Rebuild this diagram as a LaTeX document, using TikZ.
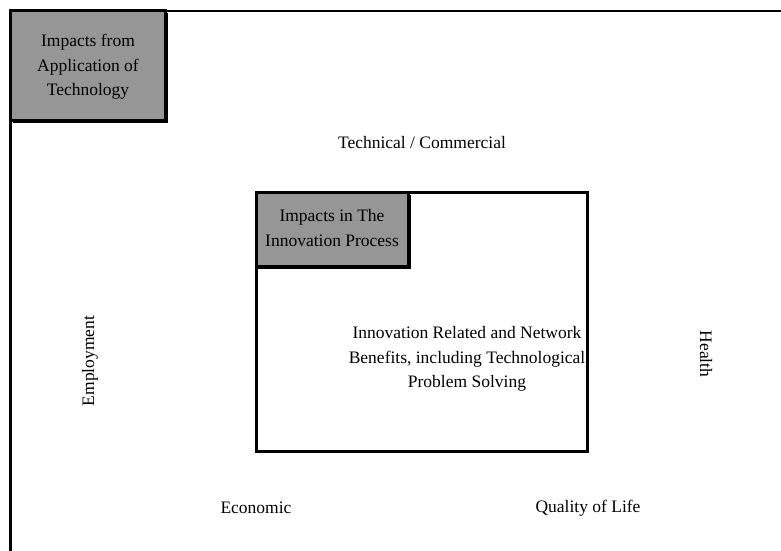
\documentclass[tikz,border=0pt]{standalone}
\usepackage{fontspec}
\setmainfont{Liberation Serif}
\usetikzlibrary{calc,positioning}
\tikzset{
  shade box/.style={draw,line width=3pt,fill=black!41},
  plain box/.style={draw,line width=3pt,fill=white},
  label text/.style={font=\fontsize{17.5}{24.5}\selectfont,align=center,inner sep=0pt}
}

\begin{document}
\begin{tikzpicture}[x=1pt,y=-1pt]
\useasboundingbox (0,0) rectangle (781,550);
% outer frame, runs off the page
\draw[line width=2.5pt] (10.5,560) -- (10.5,11) -- (790,11);
% inner box
\draw[plain box] (256.5,192.5) rectangle (587.5,451.5);
% small boxes, with a shadow
\fill (13,13) rectangle (168,123);
\draw[shade box] (10.5,10.5) rectangle (165.5,120.5);
\fill (258,195) rectangle (411,269);
\draw[shade box] (256.5,192.5) rectangle (408.5,266.5);
\node[label text] (apply) at (88,67) {Impacts from\\Application of\\Technology};
\node[label text] (inno) at (332,228) {Impacts in The\\Innovation Process};
\node[label text] (benefit) at (467,359) {Innovation Related and Network\\Benefits, including Technological\\Problem Solving};
\node[label text] (tech) at (422,143) {Technical / Commercial};
\node[label text,rotate=90] (employ) at (90,361) {Employment};
\node[label text,rotate=-90] (health) at (706,354) {Health};
\node[label text] (econ) at (256,508) {Economic};
\node[label text] (life) at (588,508) {Quality of Life};
\end{tikzpicture}
\end{document}
